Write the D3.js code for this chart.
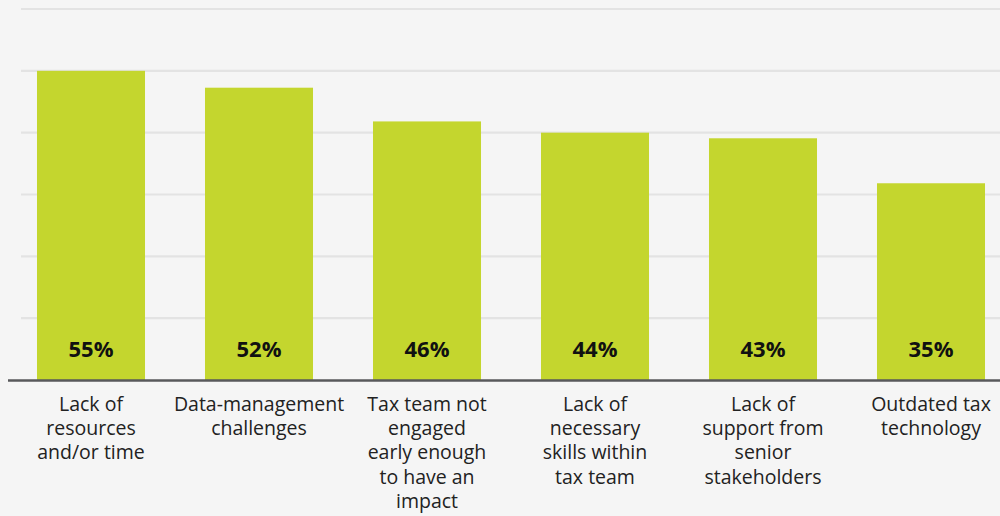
<!DOCTYPE html>
<html>
<head>
<meta charset="utf-8">
<script src="https://cdn.jsdelivr.net/npm/d3@7"></script>
<style>
  html, body { margin: 0; padding: 0; background: #f5f5f5; }
  svg { display: block; font-family: "Open Sans", sans-serif; }
</style>
</head>
<body>
<svg id="chart" width="1000" height="516"></svg>
<script>
// Challenges reported, share of respondents
const categories = [
  "Lack of\nresources\nand/or time",
  "Data-management\nchallenges",
  "Tax team not\nengaged\nearly enough\nto have an\nimpact",
  "Lack of\nnecessary\nskills within\ntax team",
  "Lack of\nsupport from\nsenior\nstakeholders",
  "Outdated tax\ntechnology"
];
const values = [55, 52, 46, 44, 43, 35];
const gridValues = [11, 22, 33, 44, 55, 66];

const W = 1000, H = 516;
const baseY = 380;
const svg = d3.select("#chart");

const x = d3.scaleBand()
  .domain(categories)
  .range([7, 1015])
  .paddingInner(0.357)
  .paddingOuter(0.1785);

const y = d3.scaleLinear().domain([0, 66]).range([baseY, 9]);

// horizontal gridlines
svg.append("g")
  .selectAll("line")
  .data(gridValues)
  .join("line")
  .attr("x1", 21).attr("x2", W)
  .attr("y1", d => y(d)).attr("y2", d => y(d))
  .attr("stroke", "#e3e3e3")
  .attr("stroke-width", 2.2);

// bars
svg.append("g")
  .selectAll("rect")
  .data(values)
  .join("rect")
  .attr("x", (d, i) => x(categories[i]))
  .attr("width", x.bandwidth())
  .attr("y", d => y(d))
  .attr("height", d => y(0) - y(d))
  .attr("fill", "#c4d62e");

// value labels near the foot of each bar
svg.append("g")
  .selectAll("text")
  .data(values)
  .join("text")
  .attr("x", (d, i) => x(categories[i]) + x.bandwidth() / 2)
  .attr("y", y(0) - 23)
  .attr("text-anchor", "middle")
  .attr("font-size", 22)
  .attr("font-weight", 700)
  .attr("fill", "#111")
  .text(d => d + "%");

// baseline
svg.append("line")
  .attr("x1", 8).attr("x2", W)
  .attr("y1", baseY + 0.5).attr("y2", baseY + 0.5)
  .attr("stroke", "#58595b")
  .attr("stroke-width", 2.5);

// category labels
const xAxis = d3.axisBottom(x).tickSize(0).tickFormat("");
const axisG = svg.append("g")
  .attr("transform", `translate(0,${baseY})`)
  .call(xAxis);
axisG.select(".domain").remove();

axisG.selectAll(".tick").each(function(d) {
  const t = d3.select(this).append("text")
    .attr("text-anchor", "middle")
    .attr("fill", "#222")
    .attr("font-size", 19.5)
    .attr("font-family", "'Open Sans', sans-serif");
  d.split("\n").forEach((line, i) => {
    t.append("tspan")
      .attr("x", 0)
      .attr("y", 31 + i * 24.2)
      .text(line);
  });
});
</script>
</body>
</html>
